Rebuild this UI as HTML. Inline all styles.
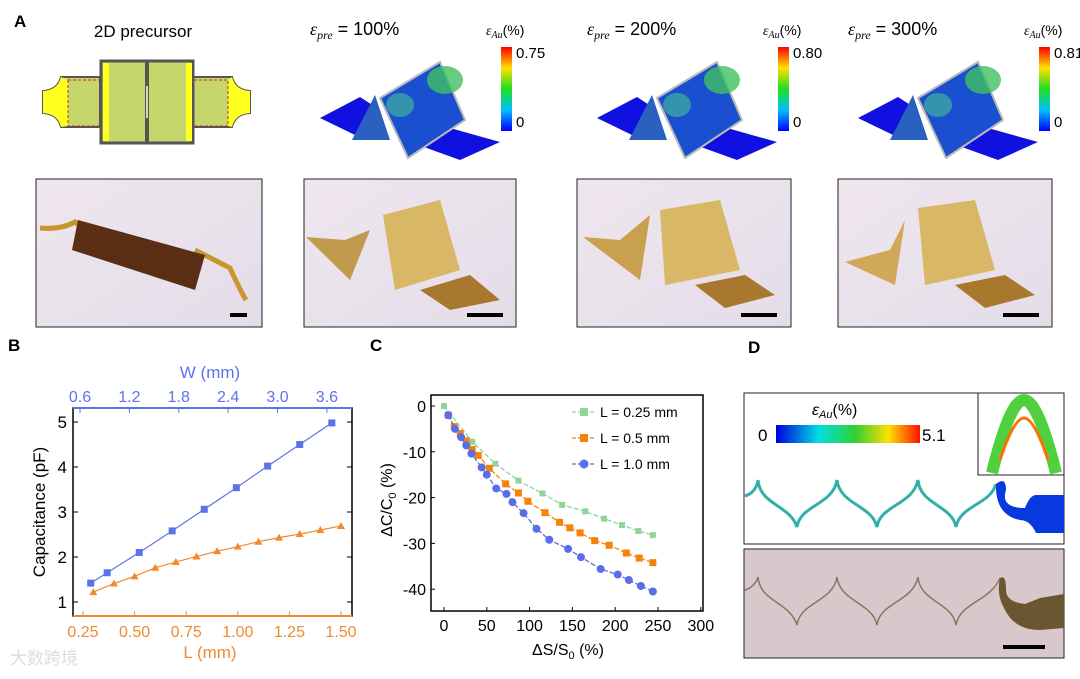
<!DOCTYPE html>
<html><head><meta charset="utf-8"><style>
body{margin:0;background:#fff;width:1080px;height:674px;overflow:hidden;font-family:"Liberation Sans","Noto Sans CJK SC",sans-serif}
svg text{font-family:"Liberation Sans","Noto Sans CJK SC",sans-serif}
</style></head><body>
<svg id="fig" width="1080" height="674" viewBox="0 0 1080 674" xmlns="http://www.w3.org/2000/svg">
<defs>
<linearGradient id="cb" x1="0" y1="1" x2="0" y2="0"><stop offset="0" stop-color="#0000ff"/><stop offset=".25" stop-color="#00c0ff"/><stop offset=".5" stop-color="#20e020"/><stop offset=".75" stop-color="#ffe000"/><stop offset="1" stop-color="#ff0000"/></linearGradient>
<linearGradient id="cbh" x1="0" y1="0" x2="1" y2="0"><stop offset="0" stop-color="#0000e0"/><stop offset=".3" stop-color="#00e0e0"/><stop offset=".55" stop-color="#30d030"/><stop offset=".78" stop-color="#ffe000"/><stop offset="1" stop-color="#ff1000"/></linearGradient>
<linearGradient id="ph" x1="0" y1="0" x2="1" y2="1"><stop offset="0" stop-color="#efe6ee"/><stop offset="1" stop-color="#e4dde8"/></linearGradient>
</defs>

<!-- Panel A -->
<text x="14" y="27" font-size="17" font-weight="bold">A</text>
<text x="143" y="37" font-size="17" text-anchor="middle">2D precursor</text>
<g>
<path d="M100 77 L61 77 Q58 90 43 91 L43 113 Q58 114 61 127 L100 127 Z" fill="#c6d66a" stroke="#555" stroke-width="2"/>
<path d="M43 91 Q58 90 61 77 L68 80 L68 126 L61 127 Q58 114 43 113 Z" fill="#ffff20"/>
<path d="M193 77 L232 77 Q235 90 250 91 L250 113 Q235 114 232 127 L193 127 Z" fill="#c6d66a" stroke="#555" stroke-width="2"/>
<path d="M250 91 Q235 90 232 77 L228 80 L228 126 L232 127 Q235 114 250 113 Z" fill="#ffff20"/>
<rect x="68" y="80" width="33" height="46" fill="none" stroke="#c03020" stroke-dasharray="3,2"/>
<rect x="194" y="80" width="34" height="46" fill="none" stroke="#c03020" stroke-dasharray="3,2"/>
<rect x="101" y="61" width="92" height="82" fill="#c6d66a" stroke="#555" stroke-width="3"/>
<rect x="103" y="63" width="6" height="78" fill="#ffff20"/><rect x="186" y="63" width="6" height="78" fill="#ffff20"/>
<line x1="147" y1="62" x2="147" y2="142" stroke="#555" stroke-width="4"/>
<line x1="147" y1="86" x2="147" y2="118" stroke="#fff" stroke-width="1.5"/>
</g>
<g id="sims"></g>

<!-- Photo boxes -->
<g><rect x="36" y="179" width="226" height="148" fill="url(#ph)" stroke="#222"/>
<path d="M40 228 Q60 230 75 222 L100 240 M195 250 L230 268 Q240 290 246 300" fill="none" stroke="#c8962e" stroke-width="5"/>
<path d="M78 220 L205 255 L195 290 L72 250 Z" fill="#5a2e14"/>
<rect x="230" y="313" width="17" height="4" fill="#000"/></g>
<g><rect x="304" y="179" width="212" height="148" fill="url(#ph)" stroke="#222"/>
<path d="M306 237 L345 240 L370 230 L350 280 Z" fill="#c09a4e"/>
<path d="M383 215 L440 200 L460 270 L395 290 Z" fill="#d8b866"/>
<path d="M420 290 L470 275 L500 300 L450 310 Z" fill="#a8782e"/>
<rect x="467" y="313" width="36" height="4" fill="#000"/></g>
<g><rect x="577" y="179" width="214" height="148" fill="url(#ph)" stroke="#222"/>
<path d="M583 237 L620 240 L650 215 L640 280 Z" fill="#c8a050"/>
<path d="M660 210 L720 200 L740 270 L665 285 Z" fill="#d8b866"/>
<path d="M695 285 L745 275 L775 295 L725 308 Z" fill="#a8782e"/>
<rect x="741" y="313" width="36" height="4" fill="#000"/></g>
<g><rect x="838" y="179" width="214" height="148" fill="url(#ph)" stroke="#222"/>
<path d="M845 262 L890 250 L905 220 L895 285 Z" fill="#d0a858"/>
<path d="M918 208 L975 200 L995 270 L925 285 Z" fill="#d8b866"/>
<path d="M955 285 L1005 275 L1035 295 L985 308 Z" fill="#a8782e"/>
<rect x="1003" y="313" width="36" height="4" fill="#000"/></g>

<g id="chartB"></g>
<g id="chartC"></g>

<!-- Panel D -->
<text x="748" y="353" font-size="17" font-weight="bold">D</text>
<g>
<rect x="744" y="393" width="320" height="151" fill="#fff" stroke="#222"/>
<text x="812" y="415" font-size="16" font-style="italic" font-family="Liberation Serif,serif">ε<tspan font-size="11" dy="3">Au</tspan><tspan dy="-3" font-style="normal" font-family="Liberation Sans">(%)</tspan></text>
<text x="758" y="441" font-size="17">0</text>
<rect x="776" y="425" width="144" height="18" fill="url(#cbh)"/>
<text x="922" y="441" font-size="17">5.1</text>
<rect x="978" y="393" width="86" height="82" fill="#fff" stroke="#222"/>
<path d="M992 473 Q1010 400 1024 400 Q1038 400 1056 473" fill="none" stroke="#50d040" stroke-width="12"/>
<path d="M1000 460 Q1014 418 1024 418 Q1034 418 1048 460" fill="none" stroke="#ff7000" stroke-width="3"/>
<path d="M745 496 C752 494 757 488 758 480 C760 505 790 505 797 527 C800 505 833 505 837 480 C840 505 872 505 877 527 C880 505 913 505 918 480 C920 505 952 505 956 527 C960 505 990 505 996 484" fill="none" stroke="#30b0a8" stroke-width="3"/>
<path d="M996 484 Q1006 476 1006 490 Q1000 508 1025 508 Q1030 495 1036 495 L1064 495 L1064 533 L1036 533 Q1030 520 1020 520 Q995 515 996 484 Z" fill="#0838e0"/>
</g>
<g>
<rect x="744" y="549" width="320" height="109" fill="#d8c8cc" stroke="#222"/>
<path d="M745 590 C752 588 757 582 758 577 C760 602 790 602 797 625 C800 602 833 602 837 577 C840 602 872 602 877 625 C880 602 913 602 918 577 C920 602 952 602 956 625 C960 602 990 602 1000 578" fill="none" stroke="#8a7460" stroke-width="1.5"/>
<path d="M1000 578 Q1006 574 1006 590 Q1006 602 1025 604 L1040 598 L1064 594 L1064 628 L1040 630 Q1015 630 1005 610 Q996 595 1000 578 Z" fill="#6a5630"/>
<rect x="1003" y="645" width="42" height="4" fill="#000"/>
</g>
<text x="10" y="664" font-size="17" fill="#ddd">大数跨境</text>
</svg>
<script>
const NS="http://www.w3.org/2000/svg";
function mk(p,t,a,txt){const e=document.createElementNS(NS,t);for(const k in a)e.setAttribute(k,a[k]);if(txt!==undefined)e.textContent=txt;p.appendChild(e);return e;}

// ---- Panel B data ----
const bW=[0.73,0.93,1.32,1.72,2.11,2.5,2.88,3.27,3.66];
const bCapW=[1.42,1.65,2.1,2.58,3.06,3.54,4.02,4.5,4.98];
const bL=[0.3,0.4,0.5,0.6,0.7,0.8,0.9,1.0,1.1,1.2,1.3,1.4,1.5];
const bCapL=[1.22,1.41,1.57,1.76,1.89,2.01,2.13,2.23,2.34,2.43,2.51,2.6,2.69];
const bYTicks=[1,2,3,4,5];
const bLTicks=["0.25","0.50","0.75","1.00","1.25","1.50"];
const bWTicks=["0.6","1.2","1.8","2.4","3.0","3.6"];

// ---- Panel C data ----
const cS1=[0,33,60,87,115,138,165,187,208,227,244];
const cV1=[0,-7.8,-12.6,-16.3,-19.1,-21.6,-23,-24.6,-26,-27.3,-28.2];
const cS2=[5,12,19,26,33,40,53,72,87,98,118,135,147,159,176,193,213,228,244];
const cV2=[-2,-4.5,-6,-7.6,-9.5,-10.8,-13.6,-17,-19,-20.8,-23.3,-25.4,-26.6,-27.7,-29.4,-30.4,-32.1,-33.2,-34.2];
const cS3=[5,13,20,26,32,44,50,61,73,80,93,108,123,145,160,183,203,216,230,244];
const cV3=[-2,-5,-6.8,-8.6,-10.4,-13.4,-15,-18,-19.2,-21,-23.4,-26.8,-29.2,-31.2,-33,-35.6,-36.8,-38,-39.3,-40.5];
const cXTicks=[0,50,100,150,200,250,300];
const cYTicks=[0,-10,-20,-30,-40];
const cLegend=["L = 0.25 mm","L = 0.5 mm","L = 1.0 mm"];

// ---- Sim labels ----
const simPre=["100%","200%","300%"];
const simMax=["0.75","0.80","0.81"];

const sims=document.getElementById('sims');
simPre.forEach((p,i)=>{
  const ox=[300,577,838][i];
  const g=mk(sims,'g',{});
  
  
  const t=mk(g,'text',{x:ox+10,y:35,'font-size':18});
  t.innerHTML='<tspan font-style="italic" font-family="Liberation Serif,serif">ε<tspan font-size="12" dy="4">pre</tspan></tspan><tspan dy="-4"> = '+p+'</tspan>';
  const l=mk(g,'text',{x:ox+186,y:35,'font-size':14});
  l.innerHTML='<tspan font-style="italic" font-family="Liberation Serif,serif">ε<tspan font-size="10" dy="3">Au</tspan></tspan><tspan dy="-3">(%)</tspan>';
  mk(g,'rect',{x:ox+201,y:47,width:11,height:84,fill:'url(#cb)'});
  mk(g,'text',{x:ox+216,y:58,'font-size':15},simMax[i]);
  mk(g,'text',{x:ox+216,y:127,'font-size':15},'0');
  mk(g,'path',{d:`M${ox+20} 118 L${ox+60} 97 L${ox+80} 110 L${ox+55} 135 Z`,fill:'#1010e0'});
  mk(g,'path',{d:`M${ox+110} 142 L${ox+150} 128 L${ox+200} 142 L${ox+160} 160 Z`,fill:'#1010e0'});
  mk(g,'path',{d:`M${ox+52} 140 L${ox+75} 95 L${ox+90} 140 Z`,fill:'#2a60c0'});
  mk(g,'path',{d:`M${ox+80} 98 L${ox+140} 62 L${ox+165} 120 L${ox+108} 158 Z`,fill:'#1a50d0',stroke:'#bbb','stroke-width':2});
  mk(g,'ellipse',{cx:ox+145,cy:80,rx:18,ry:14,fill:'#40c060',opacity:.8});
  mk(g,'ellipse',{cx:ox+100,cy:105,rx:14,ry:12,fill:'#40b0a0',opacity:.7});
});

(function(){
  const g=document.getElementById('chartB');
  const X0=73,X1=352,Y0=408,Y1=616;
  const yS=v=>602-(v-1)*45;
  const lS=v=>83+(v-0.25)*206.4;
  const wS=v=>80+(v-0.6)*82.3;
  mk(g,'text',{x:8,y:351,'font-size':17,'font-weight':'bold'},'B');
  mk(g,'rect',{x:X0,y:Y0,width:X1-X0,height:Y1-Y0,fill:'none',stroke:'#000','stroke-width':1.5});
  mk(g,'line',{x1:X0,y1:Y0,x2:X1,y2:Y0,stroke:'#5a74e8','stroke-width':2});
  mk(g,'line',{x1:X0,y1:Y1,x2:X1,y2:Y1,stroke:'#f08a30','stroke-width':2});
  bYTicks.forEach(v=>{mk(g,'line',{x1:X1-5,y1:yS(v),x2:X1,y2:yS(v),stroke:'#000'});mk(g,'line',{x1:X0,y1:yS(v),x2:X0+5,y2:yS(v),stroke:'#000'});
    mk(g,'text',{x:X0-6,y:yS(v)+6,'font-size':17,'text-anchor':'end'},v);});
  bLTicks.forEach(v=>{const x=lS(+v);mk(g,'line',{x1:x,y1:Y1,x2:x,y2:Y1-5,stroke:'#f08a30'});
    mk(g,'text',{x:x,y:Y1+21,'font-size':16,'text-anchor':'middle',fill:'#f08a30'},v);});
  bWTicks.forEach(v=>{const x=wS(+v);mk(g,'line',{x1:x,y1:Y0,x2:x,y2:Y0+5,stroke:'#5a74e8'});
    mk(g,'text',{x:x,y:Y0-6,'font-size':16,'text-anchor':'middle',fill:'#5a74e8'},v);});
  const t1=mk(g,'text',{x:210,y:378,'font-size':17,'text-anchor':'middle',fill:'#5a74e8'},'W (mm)');
  
  const t2=mk(g,'text',{x:210,y:658,'font-size':17,'text-anchor':'middle',fill:'#f08a30'},'L (mm)');
  
  const t3=mk(g,'text',{x:45,y:512,'font-size':17,'text-anchor':'middle',transform:'rotate(-90 45 512)'},'Capacitance (pF)');
  
  mk(g,'polyline',{points:bW.map((w,i)=>wS(w)+','+yS(bCapW[i])).join(' '),fill:'none',stroke:'#5a74e8','stroke-width':1.2});
  bW.forEach((w,i)=>{const r=mk(g,'rect',{x:wS(w)-3.5,y:yS(bCapW[i])-3.5,width:7,height:7,fill:'#5a74e8'});
    
    });
  mk(g,'polyline',{points:bL.map((l,i)=>lS(l)+','+yS(bCapL[i])).join(' '),fill:'none',stroke:'#f08a30','stroke-width':1.2});
  bL.forEach((l,i)=>{const x=lS(l),y=yS(bCapL[i]);const p=mk(g,'path',{d:`M${x} ${y-4} L${x+4} ${y+3} L${x-4} ${y+3} Z`,fill:'#f08a30'});
    
    });
})();

(function(){
  const g=document.getElementById('chartC');
  const X0=431,X1=703,Y0=395,Y1=611;
  const xS=v=>444+v*0.856;
  const yS=v=>406-v*4.58;
  mk(g,'text',{x:370,y:351,'font-size':17,'font-weight':'bold'},'C');
  mk(g,'rect',{x:X0,y:Y0,width:X1-X0,height:Y1-Y0,fill:'none',stroke:'#000','stroke-width':1.5});
  cXTicks.forEach(v=>{mk(g,'line',{x1:xS(v),y1:Y1,x2:xS(v),y2:Y1-4,stroke:'#000'});
    mk(g,'text',{x:xS(v),y:Y1+20,'font-size':16,'text-anchor':'middle'},v);});
  cYTicks.forEach(v=>{mk(g,'line',{x1:X0,y1:yS(v),x2:X0+4,y2:yS(v),stroke:'#000'});
    mk(g,'text',{x:X0-5,y:yS(v)+6,'font-size':16,'text-anchor':'end'},v);});
  const xt=mk(g,'text',{x:568,y:655,'font-size':16,'text-anchor':'middle'});
  xt.innerHTML='ΔS/S<tspan font-size="11" dy="4">0</tspan><tspan dy="-4"> (%)</tspan>';
  
  const yt=mk(g,'text',{x:392,y:500,'font-size':16,'text-anchor':'middle',transform:'rotate(-90 392 500)'});
  yt.innerHTML='ΔC/C<tspan font-size="11" dy="4">0</tspan><tspan dy="-4"> (%)</tspan>';
  
  const series=[[cS1,cV1,'#8fd49a','sq',6],[cS2,cV2,'#f7820a','sq',7],[cS3,cV3,'#5a6ee8','ci',4]];
  series.forEach(([xs,ys,col,shape,sz],si)=>{
    mk(g,'polyline',{points:xs.map((x,i)=>xS(x)+','+yS(ys[i])).join(' '),fill:'none',stroke:col,'stroke-width':1.3,'stroke-dasharray':'5,2'});
    xs.forEach((x,i)=>{let m;if(shape==='sq')m=mk(g,'rect',{x:xS(x)-sz/2,y:yS(ys[i])-sz/2,width:sz,height:sz,fill:col});
      else m=mk(g,'circle',{cx:xS(x),cy:yS(ys[i]),r:sz,fill:col});
      
      });
    const ly=412+si*26;
    mk(g,'line',{x1:572,y1:ly,x2:596,y2:ly,stroke:col,'stroke-width':1.3,'stroke-dasharray':'4,2'});
    if(shape==='sq')mk(g,'rect',{x:580,y:ly-4,width:8,height:8,fill:col});else mk(g,'circle',{cx:584,cy:ly,r:4.5,fill:col});
    const lt=mk(g,'text',{x:600,y:ly+5,'font-size':14},cLegend[si]);
    
    
  });
})();
</script>
</body></html>
